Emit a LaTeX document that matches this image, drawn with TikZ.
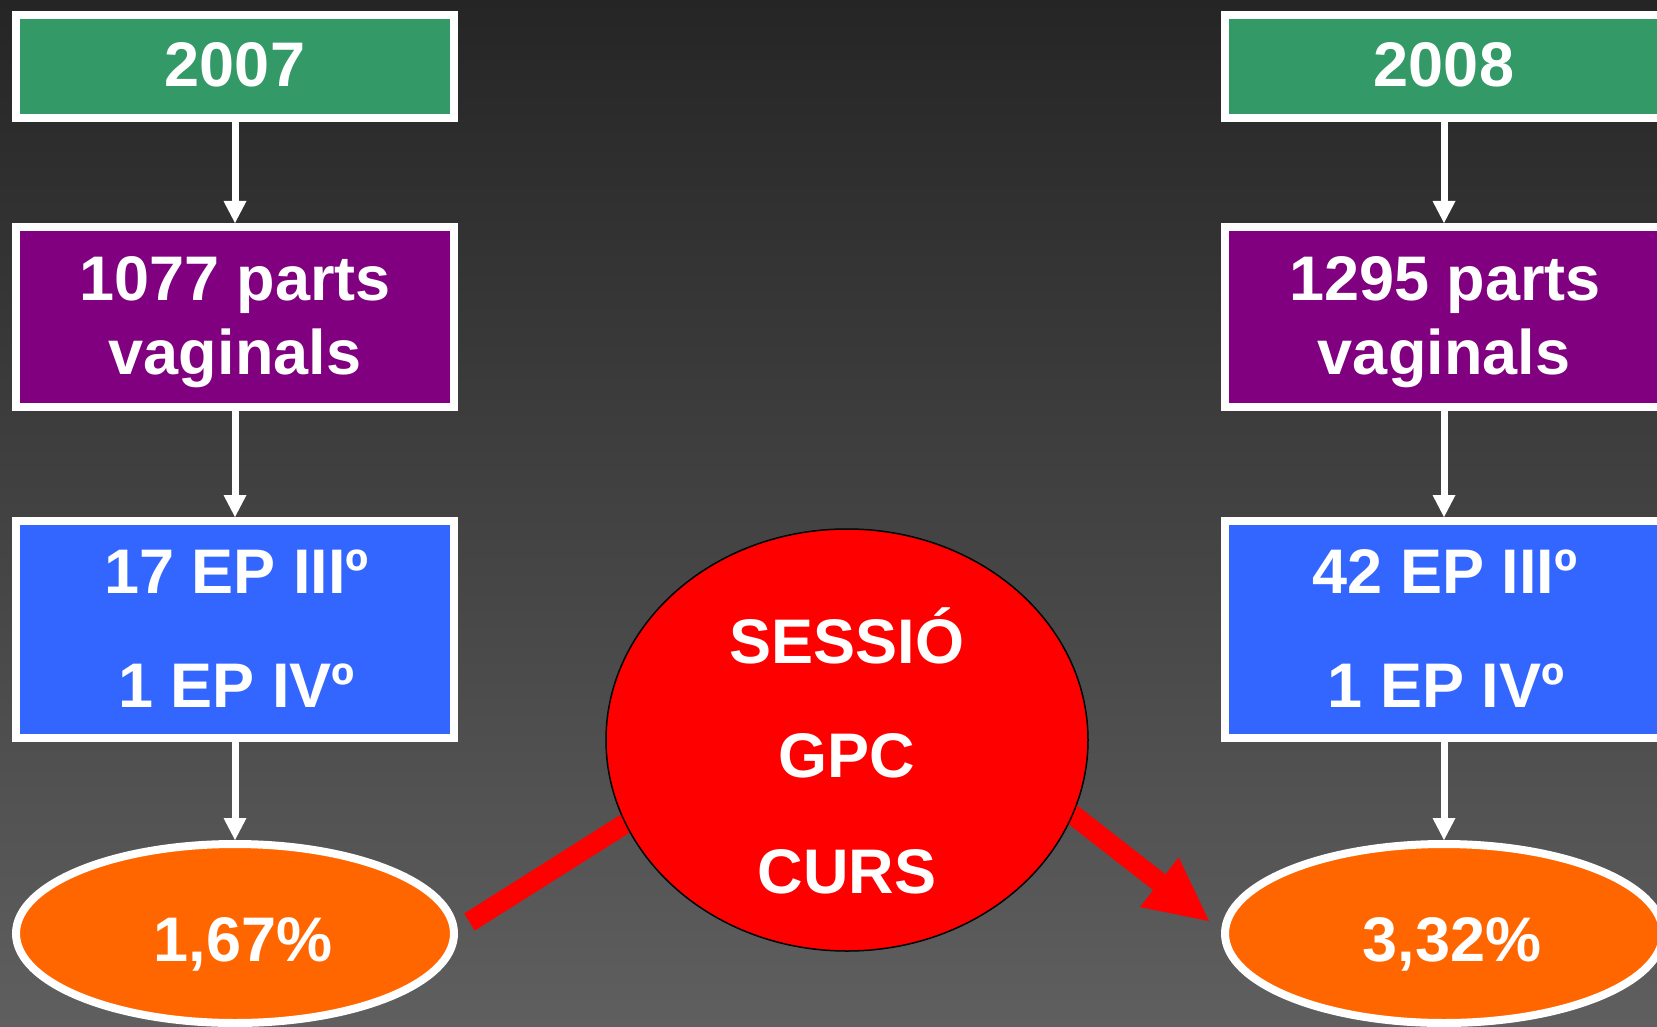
\documentclass[tikz,border=0pt]{standalone}
\usepackage{fontspec}
\setmainfont{Liberation Sans}
\usetikzlibrary{arrows.meta,shapes.geometric}
\definecolor{bgtop}{HTML}{252525}
\definecolor{bgmid}{HTML}{525252}
\definecolor{bgbot}{HTML}{5F5F5F}
\definecolor{ygreen}{HTML}{339966}
\definecolor{ppurple}{HTML}{800080}
\definecolor{eblue}{HTML}{3366FF}
\definecolor{porange}{HTML}{FF6600}
\definecolor{sred}{HTML}{FF0000}
\begin{document}
\begin{tikzpicture}[x=1pt,y=-1pt,
  box/.style={rectangle,draw=white,line width=8pt,minimum width=438pt,inner sep=0pt},
  oval/.style={ellipse,draw=white,line width=8pt,fill=porange,minimum width=438pt,minimum height=179pt,inner sep=0pt},
  txt/.style={text=white,font=\fontsize{63}{63}\selectfont\bfseries,inner sep=0pt,anchor=base},
  flow/.style={draw=white,line width=7pt,-{Triangle[width=23pt,length=22pt,line width=0pt]}},
  redline/.style={draw=sred,line width=20pt},
]
\useasboundingbox (0,0) rectangle (1657,1027);
\clip (0,0) rectangle (1657,1027);
\fill[top color=bgtop,middle color=bgmid,bottom color=bgbot] (0,0) rectangle (1657,1027);

% red connectors (under the central ellipse)
\coordinate (l1) at (469.5,922);
\coordinate (l2) at (689.5,783);
\coordinate (r1) at (1004,761);
\coordinate (r2) at (1209,921);
\draw[redline] (l1) -- (l2);
\draw[redline,-{Triangle[width=63pt,length=63pt,line width=0pt]}] (r1) -- (r2);

% left column
\node[box,fill=ygreen,minimum height=103pt] (y07) at (235,66.5) {};
\node[txt] (y07t) at (235,87) {2007};
\node[box,fill=ppurple,minimum height=180pt] (p07) at (235,317) {};
\node[txt] (p07a) at (235,300) {1077 parts};
\node[txt] (p07b) at (235,374) {vaginals};
\node[box,fill=eblue,minimum height=217pt] (b07) at (235,629.5) {};
\node[txt] (b07a) at (236.5,593) {17 EP IIIº};
\node[txt] (b07b) at (236.5,707) {1 EP IVº};
\node[oval] (e07) at (235,933.5) {};
\node[txt] (e07t) at (243,961) {1,67\%};

% right column
\node[box,fill=ygreen,minimum height=103pt] (y08) at (1444,66.5) {};
\node[txt] (y08t) at (1444,87) {2008};
\node[box,fill=ppurple,minimum height=180pt] (p08) at (1444,317) {};
\node[txt] (p08a) at (1445,300) {1295 parts};
\node[txt] (p08b) at (1444,374) {vaginals};
\node[box,fill=eblue,minimum height=217pt] (b08) at (1444,629.5) {};
\node[txt] (b08a) at (1445,593) {42 EP IIIº};
\node[txt] (b08b) at (1446,707) {1 EP IVº};
\node[oval] (e08) at (1444,933.5) {};
\node[txt] (e08t) at (1452,961) {3,32\%};

% central ellipse
\node[ellipse,draw=black,line width=1.5pt,fill=sred,minimum width=482pt,minimum height=422pt,inner sep=0pt] (sess) at (847,740) {};
\node[txt] (sess1) at (847,663) {SESSIÓ};
\node[txt] (sess2) at (847,777) {GPC};
\node[txt] (sess3) at (847,893) {CURS};

% flow arrows
\draw[flow] (y07.south) -- (p07.north);
\draw[flow] (p07.south) -- (b07.north);
\draw[flow] (b07.south) -- (e07.north);
\draw[flow] (y08.south) -- (p08.north);
\draw[flow] (p08.south) -- (b08.north);
\draw[flow] (b08.south) -- (e08.north);
\end{tikzpicture}
\end{document}
